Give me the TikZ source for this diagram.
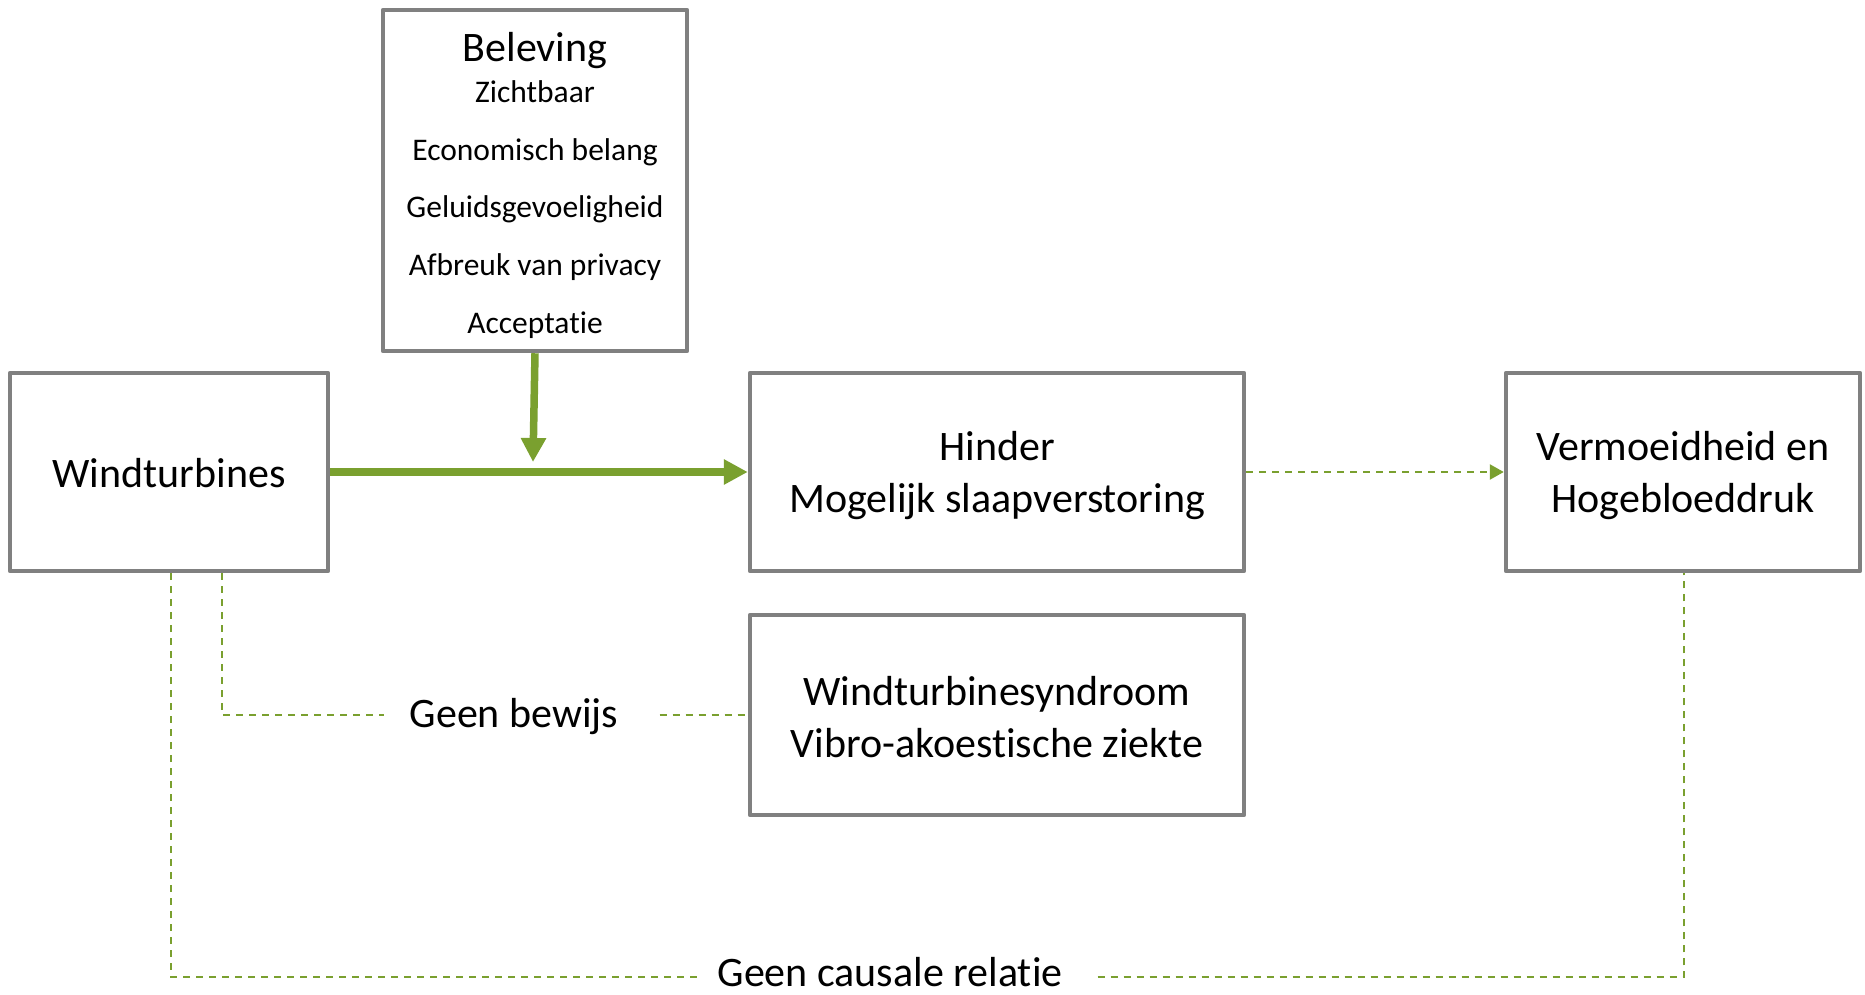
\documentclass[tikz,border=0pt]{standalone}
\usepackage{fontspec}
\setmainfont{Carlito}[Ligatures={NoCommon,NoRare,NoContextual},RawFeature={-calt;-clig;-dlig;-liga}]
\usetikzlibrary{arrows.meta,calc}
\definecolor{bordergray}{RGB}{128,128,128}
\definecolor{olivegreen}{RGB}{122,160,47}
\newcommand{\nolig}{\kern0pt\relax}
\begin{document}
\begin{tikzpicture}[x=1pt,y=-1pt,
 box/.style={draw=bordergray,line width=4.5pt,line join=round,fill=white,inner sep=0pt},
 boxtext/.style={inner sep=0pt,align=center,font=\fontsize{42}{52}\selectfont},
 title/.style={font=\fontsize{42}{51}\selectfont,anchor=base,inner sep=0pt},
 item/.style={font=\fontsize{31.5}{38}\selectfont,anchor=base,inner sep=0pt},
 lbl/.style={font=\fontsize{42}{51}\selectfont,inner sep=0pt},
 strong/.style={draw=olivegreen,line width=7.5pt,-{Triangle[length=24pt,width=24pt]}},
 weak/.style={draw=olivegreen,line width=2.5pt,dash pattern=on 7pt off 6pt},
 weakarrow/.style={weak,-{Triangle[length=14pt,width=15pt]}}]
\useasboundingbox[fill=white] (0,0) rectangle (1865,995);

\node[box,minimum width=318pt,minimum height=198pt] (wt) at (169,472) {};
\node[box,minimum width=304pt,minimum height=341pt] (bel) at (535,180.5) {};
\node[box,minimum width=494pt,minimum height=198pt] (hin) at (997,472) {};
\node[box,minimum width=354pt,minimum height=198pt] (ver) at (1683,472) {};
\node[box,minimum width=494pt,minimum height=200pt] (syn) at (997,715) {};

\node[boxtext] (wtt) at ([yshift=-1pt]wt.center) {Windturbines};
\node[boxtext] (hint) at ([yshift=-4pt]hin.center) {Hinder\\Mogelijk slaapverstoring};
\node[boxtext] (vert) at ([yshift=-4pt]ver.center) {Vermoeidheid en\\Hogebloeddruk};
\node[boxtext] (synt) at ([yshift=-2pt]syn.center) {Windturbinesyndroom\\Vibro-akoest\nolig ische ziekte};

\node[title] (belt) at (535,62) {Beleving};
\node[item] (i1) at (535,103) {Zichtbaar};
\node[item] (i2) at (535,161) {Economisch belang};
\node[item] (i3) at (535,218) {Geluidsgevoeligheid};
\node[item] (i4) at (535,275) {Afbreuk van privacy};
\node[item] (i5) at (535,333) {Acceptat\nolig ie};

\coordinate (join) at (533,462);
\draw[strong] (wt.east) -- (hin.west);
\draw[strong] (bel.south) -- (join);
\draw[weakarrow] (hin.east) -- (ver.west);

\node[lbl] (gb) at (514,717) {Geen bewijs};
\coordinate (gby) at (0,715);
\draw[weak] ([xshift=53pt]wt.south) |- ([xshift=-25pt]gb.west |- gby);
\draw[weak] ([xshift=41pt]gb.east |- gby) -- (syn.west |- gby);

\node[lbl] (gc) at (890,972) {Geen causale relat\nolig ie};
\coordinate (gcy) at (0,977);
\draw[weak] ([xshift=2pt]wt.south) |- ([xshift=-19pt]gc.west |- gcy);
\draw[weak] ([xshift=35pt]gc.east |- gcy) -| ([xshift=1pt]ver.south);
\end{tikzpicture}
\end{document}
